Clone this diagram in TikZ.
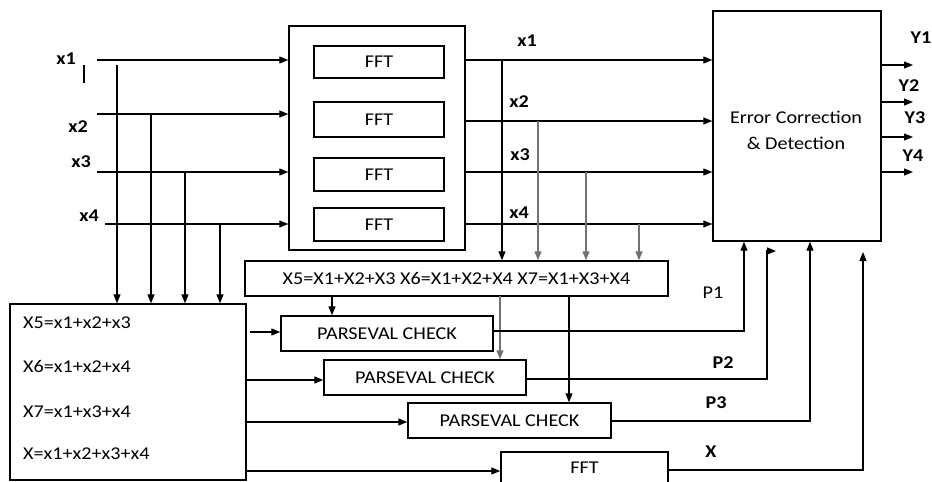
\documentclass[tikz,border=0pt]{standalone}
\usepackage{fontspec}
\setmainfont{Carlito}[FakeStretch=1.12]
\usetikzlibrary{arrows.meta,calc}
\begin{document}
\begin{tikzpicture}[x=1pt,y=-1pt,
  every node/.style={font=\fontsize{18}{22}\selectfont},
  box/.style={draw, line width=1.4pt, inner sep=0pt, text height=11.5pt, text depth=0pt},
  txt/.style={inner sep=0pt, text height=11.5pt, text depth=0pt},
  lbl/.style={txt, font=\fontsize{18}{22}\selectfont\bfseries},
  arr/.style={line width=1.2pt, -{Triangle[length=9pt,width=7pt]}},
  garr/.style={arr, draw=black!55, fill=black!55}]
\useasboundingbox (0,0) rectangle (932,482);
\fill[white] (0,0) rectangle (932,482);

% boxes
\node[box, minimum width=176pt, minimum height=224pt] (fftbox) at (377,138) {};
\node[box, minimum width=130pt, minimum height=32pt] (f1) at (379,62) {FFT};
\node[box, minimum width=130pt, minimum height=35pt] (f2) at (379,119.5) {FFT};
\node[box, minimum width=130pt, minimum height=33pt] (f3) at (379,174.5) {FFT};
\node[box, minimum width=130pt, minimum height=33pt] (f4) at (379,224.5) {FFT};
\node[box, minimum width=168pt, minimum height=230pt] (err) at (797,126) {};
\node[txt] (errt1) at (796,117.5) {Error Correction};
\node[txt] (errt2) at (796,143.5) {\& Detection};
\node[box, minimum width=423pt, minimum height=35pt] (sum) at (456.5,278.5) {X5=X1+X2+X3 X6=X1+X2+X4 X7=X1+X3+X4};
\node[box, minimum width=236pt, minimum height=176pt] (left) at (128,392) {};
\node[txt, anchor=west] (e5) at (23,323) {X5=x1+x2+x3};
\node[txt, anchor=west] (e6) at (23,367) {X6=x1+x2+x4};
\node[txt, anchor=west] (e7) at (23,412) {X7=x1+x3+x4};
\node[txt, anchor=west] (ex) at (23,454) {X=x1+x2+x3+x4};
\node[box, minimum width=212pt, minimum height=35pt] (pc1) at (387,333.5) {PARSEVAL CHECK};
\node[box, minimum width=202pt, minimum height=35pt] (pc2) at (425,377.5) {PARSEVAL CHECK};
\node[box, minimum width=203pt, minimum height=35pt] (pc3) at (509.5,420.5) {PARSEVAL CHECK};
\node[box, minimum width=167pt, minimum height=32pt] (f5) at (584.5,468) {FFT};

% labels
\node[lbl] (lx1) at (66,59) {x1};
\node[lbl] (lx2) at (78,127) {x2};
\node[lbl] (lx3) at (81,162) {x3};
\node[lbl] (lx4) at (89,216) {x4};
\node[lbl] (rx1) at (527,40.5) {x1};
\node[lbl] (rx2) at (519,102) {x2};
\node[lbl] (rx3) at (520,155) {x3};
\node[lbl] (rx4) at (519,213) {x4};
\node[lbl] (ly1) at (921,37.5) {Y1};
\node[lbl] (ly2) at (909,86) {Y2};
\node[lbl] (ly3) at (915,118) {Y3};
\node[lbl] (ly4) at (913,156) {Y4};
\node[txt] (lp1) at (713,293) {P1};
\node[lbl] (lp2) at (723,363) {P2};
\node[lbl] (lp3) at (716,403) {P3};
\node[lbl] (lxx) at (711,452) {X};

% bar near x1
\coordinate (bar1) at (84,65);
\coordinate (bar2) at (84,83);
\draw[line width=2.5pt] (bar1) -- (bar2);

% inputs
\coordinate (i1) at (97,60);
\coordinate (i2) at (97,114);
\coordinate (i3) at (97,172);
\coordinate (i4) at (105,224);
\foreach \c in {i1,i2,i3,i4} \draw[arr] (\c) -- (\c -| fftbox.west);
\coordinate (d1) at (117,65);
\coordinate (d2) at (151,114);
\coordinate (d3) at (185,172);
\coordinate (d4) at (220,224);
\foreach \c in {d1,d2,d3,d4} \draw[arr] (\c) -- (\c |- left.north);

% FFT outputs
\coordinate (o1) at (465,60);
\coordinate (o2) at (465,121);
\coordinate (o3) at (465,172);
\coordinate (o4) at (465,224);
\foreach \c in {o1,o2,o3,o4} \draw[arr] (\c) -- (\c -| err.west);
\coordinate (t1) at (502,60);
\coordinate (t2) at (538,121);
\coordinate (t3) at (586,172);
\coordinate (t4) at (639,224);
\draw[arr] (t1) -- (t1 |- sum.north);
\foreach \c in {t2,t3,t4} \draw[garr] (\c) -- (\c |- sum.north);

% Y outputs
\coordinate (ys1) at (881,65);  \coordinate (ye1) at (913,65);
\coordinate (ys2) at (881,102); \coordinate (ye2) at (913,102);
\coordinate (ys3) at (881,137); \coordinate (ye3) at (913,137);
\coordinate (ys4) at (881,172); \coordinate (ye4) at (913,172);
\draw[arr] (ys1) -- (ye1);
\draw[arr] (ys2) -- (ye2);
\draw[arr] (ys3) -- (ye3);
\draw[arr] (ys4) -- (ye4);

% sum box to parseval checks
\coordinate (s1) at (332,296);
\coordinate (s2) at (500,296);
\coordinate (s3) at (569,296);
\draw[arr] (s1) -- (s1 |- pc1.north);
\draw[garr] (s2) -- (s2 |- pc2.north);
\draw[arr] (s3) -- (s3 |- pc3.north);

% left box to checks
\coordinate (l1) at (250,332);
\coordinate (l2) at (246,380);
\coordinate (l3) at (246,422);
\coordinate (l4) at (246,471);
\draw[arr] (l1) -- (l1 -| pc1.west);
\draw[arr] (l2) -- (l2 -| pc2.west);
\draw[arr] (l3) -- (l3 -| pc3.west);
\draw[arr] (l4) -- (l4 -| f5.west);

% checks to error box
\coordinate (p1s) at (493,331); \coordinate (p1c) at (744,331);
\draw[arr] (p1s) -- (p1c) -- (p1c |- err.south);
\coordinate (p2s) at (526,379); \coordinate (p2c) at (767,379);
\coordinate (p2t) at (767,251); \coordinate (p2e) at (776,251);
\draw[arr] (p2s) -- (p2c) -- (p2t) -- (p2e);
\coordinate (p3s) at (611,421); \coordinate (p3c) at (810,421);
\draw[arr] (p3s) -- (p3c) -- (p3c |- err.south);
\coordinate (p4s) at (668,470); \coordinate (p4c) at (863,470);
\coordinate (p4e) at (863,252);
\draw[arr] (p4s) -- (p4c) -- (p4e);
\end{tikzpicture}
\end{document}
